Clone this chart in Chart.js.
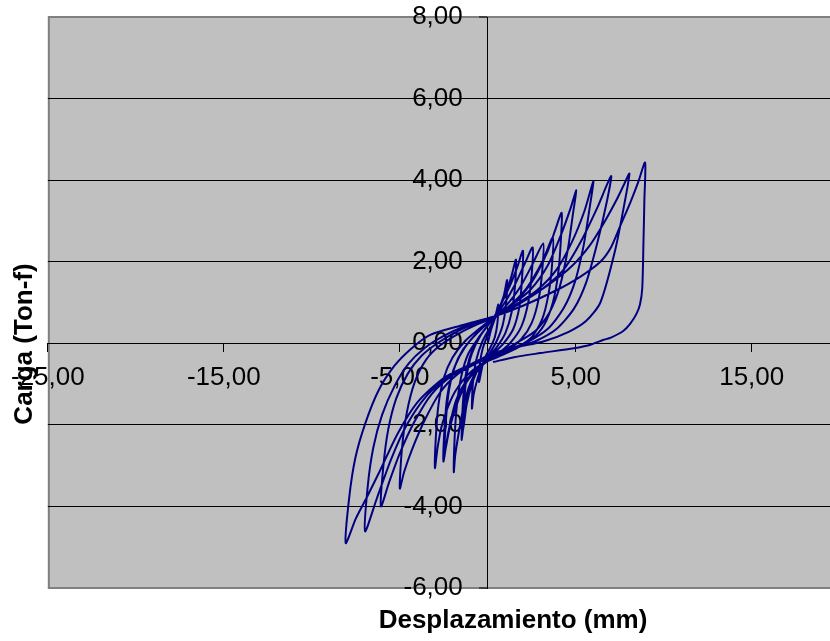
<!DOCTYPE html>
<html>
<head>
<meta charset="utf-8">
<script src="https://cdn.jsdelivr.net/npm/chart.js@4.4.1/dist/chart.umd.min.js"></script>
<style>
html,body{margin:0;padding:0;background:#fff;overflow:hidden}
#wrap{width:830px;height:641px;position:relative}
</style>
</head>
<body>
<div id="wrap"><canvas id="c" width="830" height="641"></canvas></div>
<script>
const xTitle = 'Desplazamiento (mm)';
const yTitle = 'Carga (Ton-f)';
const xTicks = [-25, -15, -5, 5, 15];
const yTicks = [-6, -4, -2, 0, 2, 4, 6, 8];

const displacement = [
  0,0.2,0.4,0.6,
  0.55,0.4,0.15,-0.1,-0.3,-0.5,
  -0.45,-0.3,-0.05,0.3,0.6,0.9,1.1,
  1.05,0.85,0.5,0.1,-0.3,-0.6,-0.8,-0.9,
  -0.85,-0.65,-0.3,0.2,0.6,1.0,1.35,1.6,
  1.55,1.35,1.0,0.5,0,-0.5,-0.9,-1.2,-1.4,
  -1.35,-1.2,-0.9,-0.4,0.3,0.8,1.3,1.7,2.0,
  1.95,1.8,1.45,0.9,0.2,-0.4,-0.9,-1.25,-1.48,
  -1.43,-1.28,-0.95,-0.4,0.3,0.9,1.5,2.1,2.55,
  2.5,2.3,1.9,1.3,0.5,-0.2,-0.8,-1.3,-1.65,-1.85,-1.93,
  -1.88,-1.75,-1.5,-1.1,-0.5,0.3,1.0,1.8,2.5,3.15,
  3.1,2.9,2.5,1.9,1.0,0.2,-0.5,-1.2,-1.8,-2.2,-2.44,
  -2.38,-2.2,-1.85,-1.3,-0.5,0.3,1.2,2.2,3.1,3.7,
  3.65,3.45,3.1,2.5,1.6,0.6,-0.3,-1.1,-1.8,-2.25,-2.52,
  -2.46,-2.3,-1.95,-1.4,-0.6,0.3,1.4,2.5,3.4,3.85,4.2,
  4.15,4.0,3.7,3.2,2.5,1.5,0.5,-0.4,-1.2,-2.0,-2.6,-2.85,-3.0,
  -2.95,-2.8,-2.5,-2.0,-1.3,-0.5,0.3,1.3,2.4,3.4,4.2,4.7,5.03,
  4.85,4.55,4.1,3.5,2.7,1.6,0.3,-0.7,-1.7,-2.7,-3.6,-4.3,-4.75,-5.0,
  -4.88,-4.6,-4.15,-3.5,-2.7,-1.6,-0.5,0.3,1.5,2.8,3.9,4.8,5.5,6.0,
  5.8,5.45,4.95,4.3,3.4,2.2,1.0,0.2,-0.8,-2.0,-3.2,-4.2,-5.0,-5.6,-6.07,
  -5.93,-5.65,-5.2,-4.55,-3.75,-2.8,-1.7,-0.6,0.3,1.6,3.0,4.3,5.3,6.2,7.01,
  6.78,6.25,5.6,4.9,3.9,2.7,1.3,0.3,-0.8,-2.2,-3.5,-4.6,-5.5,-6.3,-6.97,
  -6.82,-6.5,-6.0,-5.3,-4.5,-3.6,-2.5,-1.3,0.3,1.8,3.5,4.8,5.8,6.6,7.3,7.75,8.05,
  7.8,7.25,6.4,5.6,4.6,3.2,1.6,0.3,-1.0,-2.5,-4.0,-5.1,-6.1,-6.9,-7.5,-8.07,
  -7.88,-7.52,-6.95,-6.2,-5.3,-4.4,-3.3,-1.4,0.3,2.0,3.9,5.25,6.4,7.0,7.5,8.1,8.55,8.94,
  8.9,8.85,8.78,8.65,8.45,8.1,7.7,7.0,6.55,5.8,4.9,3.0,1.5,0.3
];

const load = [
  0,0.35,0.6,0.95,
  0.5,0.15,-0.1,-0.3,-0.55,-0.95,
  -0.5,-0.15,0.15,0.5,0.8,1.15,1.55,
  1.0,0.45,0.05,-0.25,-0.5,-0.9,-1.25,-1.6,
  -1.0,-0.4,0.05,0.45,0.8,1.2,1.65,2.05,
  1.4,0.75,0.25,-0.1,-0.35,-0.6,-1.0,-1.5,-2.13,
  -1.5,-0.8,-0.25,0.2,0.6,1.0,1.45,1.9,2.27,
  1.6,0.9,0.35,0,-0.3,-0.55,-0.95,-1.55,-2.37,
  -1.6,-0.85,-0.25,0.2,0.6,0.95,1.4,1.95,2.35,
  1.7,1.0,0.4,0.02,-0.28,-0.45,-0.8,-1.4,-2.2,-2.75,-3.16,
  -2.3,-1.5,-0.8,-0.25,0.15,0.6,0.9,1.35,1.9,2.45,
  1.8,1.1,0.5,0.1,-0.2,-0.38,-0.6,-0.95,-1.55,-2.15,-2.66,
  -1.9,-1.15,-0.55,-0.1,0.3,0.6,0.9,1.35,2.0,2.6,
  1.9,1.2,0.6,0.15,-0.12,-0.32,-0.5,-0.85,-1.4,-2.2,-2.9,
  -2.1,-1.3,-0.65,-0.15,0.25,0.6,0.95,1.5,2.25,2.8,3.2,
  2.5,1.7,1.0,0.45,0.1,-0.15,-0.35,-0.52,-0.8,-1.3,-2.0,-2.55,-3.06,
  -2.3,-1.5,-0.85,-0.35,0.05,0.35,0.62,0.92,1.3,1.9,2.7,3.3,3.75,
  3.2,2.3,1.4,0.75,0.3,0.0,-0.3,-0.5,-0.75,-1.2,-1.9,-2.6,-3.15,-3.56,
  -2.6,-1.7,-0.95,-0.4,-0.05,0.25,0.48,0.62,0.92,1.3,1.8,2.5,3.25,3.97,
  3.35,2.4,1.5,0.85,0.35,0.02,-0.18,-0.3,-0.5,-0.78,-1.25,-1.95,-2.7,-3.4,-4.0,
  -3.0,-2.1,-1.35,-0.75,-0.3,0.02,0.3,0.5,0.63,0.92,1.3,1.8,2.5,3.3,4.1,
  3.5,2.5,1.5,0.85,0.35,0.05,-0.15,-0.3,-0.5,-0.8,-1.3,-2.0,-2.85,-3.8,-4.61,
  -3.5,-2.55,-1.75,-1.05,-0.5,-0.12,0.18,0.42,0.63,0.98,1.45,1.9,2.4,2.95,3.5,3.9,4.16,
  3.5,2.3,1.0,0.55,0.28,0.05,-0.1,-0.25,-0.52,-0.85,-1.45,-2.2,-3.1,-3.8,-4.3,-4.9,
  -3.8,-2.8,-1.95,-1.15,-0.55,-0.15,0.2,0.45,0.65,0.92,1.3,1.63,2.0,2.35,2.85,3.45,3.95,4.43,
  3.5,2.5,1.35,0.95,0.72,0.48,0.3,0.14,0.08,-0.04,-0.12,-0.24,-0.34,-0.46
];

const n = Math.min(displacement.length, load.length);
const points = [];
for (let i = 0; i < n; i++) points.push({x: displacement[i], y: load[i]});

const FONT = '"Liberation Sans", Arial, Helvetica, sans-serif';
const fmt = v => Number(v).toFixed(2).replace('.', ',');

const frame = {
  id: 'frame',
  beforeDraw(chart) {
    const {ctx, chartArea: a} = chart;
    // move the y tick labels to the left of the crossing axis
    const items = chart.scales.y.getLabelItems();
    if (!items._shifted) {
      items.forEach(it => { it.options.translation[0] -= 25; });
      items._shifted = true;
    }
    ctx.save();
    ctx.fillStyle = '#C0C0C0';
    ctx.fillRect(a.left, a.top, a.right - a.left, a.bottom - a.top);
    ctx.strokeStyle = '#808080';
    ctx.lineWidth = 2;
    ctx.beginPath();
    ctx.moveTo(a.left + 1, a.top);
    ctx.lineTo(a.left + 1, a.bottom);
    ctx.stroke();
    ctx.restore();
  },
  afterDraw(chart) {
    const ctx = chart.ctx;
    ctx.save();
    ctx.fillStyle = '#000';
    ctx.font = 'bold 26px ' + FONT;
    ctx.textAlign = 'center';
    ctx.textBaseline = 'alphabetic';
    ctx.fillText(xTitle, 513, 628);
    ctx.translate(31.5, 344);
    ctx.rotate(-Math.PI / 2);
    ctx.fillText(yTitle, 0, 0);
    ctx.restore();
  }
};

const isEdge = v => v === 8 || v === -6;

new Chart(document.getElementById('c'), {
  type: 'scatter',
  data: {
    datasets: [{
      data: points,
      showLine: true,
      borderColor: '#000080',
      borderWidth: 2,
      pointRadius: 0,
      tension: 0.25,
      fill: false
    }]
  },
  options: {
    responsive: false,
    animation: false,
    events: [],
    layout: {padding: {left: 44, top: 17, right: 0, bottom: 53}},
    plugins: {legend: {display: false}, tooltip: {enabled: false}, title: {display: false}},
    scales: {
      x: {
        type: 'linear',
        min: -25,
        max: 19.45,
        position: {y: 0},
        afterBuildTicks: s => { s.ticks = xTicks.map(v => ({value: v})); },
        grid: {drawOnChartArea: false, drawTicks: true, tickLength: 8, tickColor: '#000', tickWidth: 1},
        border: {display: true, color: '#000', width: 1},
        ticks: {
          font: {family: FONT, size: 26},
          color: '#000',
          padding: 11,
          maxRotation: 0,
          autoSkip: false,
          callback: v => fmt(v)
        }
      },
      y: {
        type: 'linear',
        min: -6,
        max: 8,
        position: {x: 0},
        afterBuildTicks: s => { s.ticks = yTicks.map(v => ({value: v})); },
        grid: {
          drawOnChartArea: true,
          drawTicks: true,
          tickLength: 8,
          color: c => isEdge(c.tick && c.tick.value) ? '#808080' : '#000',
          lineWidth: c => isEdge(c.tick && c.tick.value) ? 2 : 1,
          tickColor: '#000',
          tickWidth: 1
        },
        border: {display: true, color: '#000', width: 1},
        ticks: {
          font: {family: FONT, size: 26},
          color: '#000',
          padding: 0,
          autoSkip: false,
          callback: v => fmt(v)
        }
      }
    }
  },
  plugins: [frame]
});
</script>
</body>
</html>
